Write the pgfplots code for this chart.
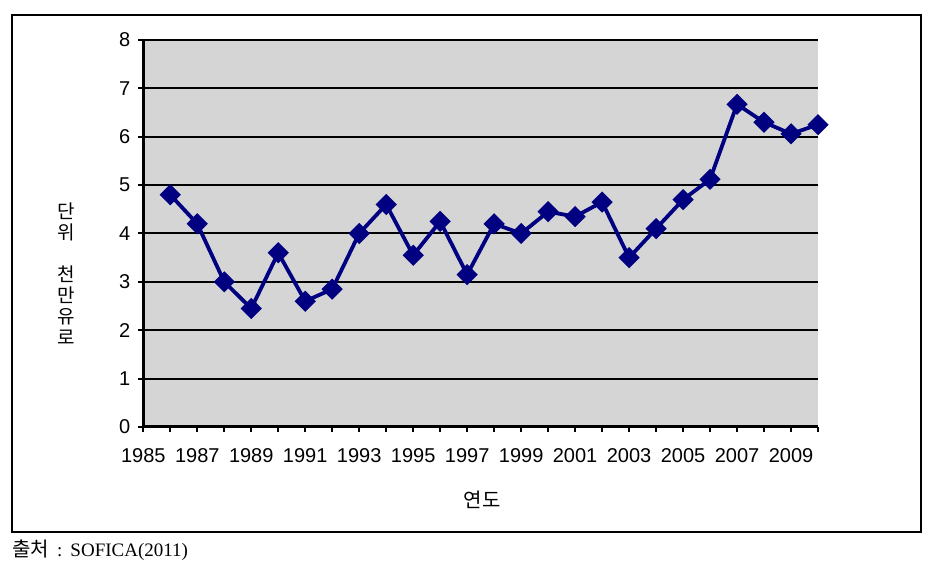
\documentclass[border=0pt]{standalone}
\usepackage{fontspec}
\setmainfont{Liberation Sans}
\newfontfamily\kr{Noto Sans CJK KR}
\newfontfamily\serif{Liberation Serif}
\usepackage{pgfplots}
\pgfplotsset{compat=1.18}
\definecolor{bggray}{RGB}{213,213,213}
\definecolor{navyline}{RGB}{0,0,128}
\begin{document}
\begin{tikzpicture}
\path (0,0) rectangle (471pt,290.5pt);
\draw[line width=1pt] (6pt,24.5pt) rectangle (460.5pt,283pt);
\begin{axis}[
  at={(71.65pt,77pt)}, anchor=south west,
  scale only axis, width=337.35pt, height=193.5pt,
  xmin=1985, xmax=2010, ymin=0, ymax=8,
  axis background/.style={fill=bggray},
  axis x line*=bottom, axis y line*=left,
  axis line style={line width=1.5pt},
  xtick={1985,1987,...,2009},
  minor xtick={1986,1988,...,2010},
  ytick={0,1,...,8},
  ymajorgrids, major grid style={black, line width=1pt},
  tick style={black, line width=1pt},
  major tick length=2.5pt, minor tick length=2.5pt,
  tick align=outside,
  /pgf/number format/assume math mode=true,
  /pgf/number format/1000 sep={},
  tick label style={font=\fontsize{10}{12}\selectfont},
  x tick label style={yshift=-4.5pt},
  y tick label style={xshift=-0.5pt},
  clip=false,
]
\addplot[navyline, line width=1.9pt, mark=square*, mark size=2.8pt,
  mark options={rotate=45, solid, fill=navyline}] coordinates {
(1986,4.80) (1987,4.20) (1988,3.00) (1989,2.45) (1990,3.60)
(1991,2.60) (1992,2.85) (1993,4.00) (1994,4.60) (1995,3.55)
(1996,4.25) (1997,3.15) (1998,4.20) (1999,4.00) (2000,4.45)
(2001,4.35) (2002,4.65) (2003,3.50) (2004,4.10) (2005,4.70)
(2006,5.12) (2007,6.67) (2008,6.30) (2009,6.06) (2010,6.25)
};
\node[font=\kr\fontsize{10}{12}\selectfont, anchor=center] at (axis description cs:0.502,-0.189) {연도};
\node[font=\kr\fontsize{9.5}{10.5}\selectfont, align=center, anchor=center] at (axis description cs:-0.1146,0.395) {단\\위\\[10.5pt]천\\만\\유\\로};
\end{axis}
\node[anchor=west, inner sep=0pt] at (6pt,15.5pt) {{\kr\fontsize{10}{12}\selectfont 출처}\hspace{4pt}{\serif\fontsize{9.5}{11}\selectfont :\hspace{4pt}SOFICA(2011)}};
\end{tikzpicture}
\end{document}
